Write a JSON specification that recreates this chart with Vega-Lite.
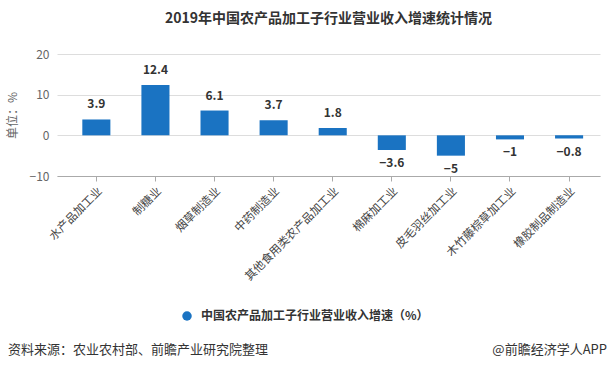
{
  "$schema": "https://vega.github.io/schema/vega-lite/v6.json",
  "background": "white",
  "padding": {"left": 6, "top": 12, "right": 2, "bottom": 2},
  "spacing": 21,
  "config": {"font": "Noto Sans CJK SC", "view": {"stroke": null}},
  "resolve": {"scale": {"color": "independent"}},
  "vconcat": [
    {
      "title": {"text": "2019年中国农产品加工子行业营业收入增速统计情况", "fontSize": 14, "fontWeight": "bold", "color": "#333333", "anchor": "middle", "offset": 22},
      "width": 543,
      "height": 122,
      "data": {"values": [
        {"industry": "水产品加工业", "growth": 3.9},
        {"industry": "制糖业", "growth": 12.4},
        {"industry": "烟草制造业", "growth": 6.1},
        {"industry": "中药制造业", "growth": 3.7},
        {"industry": "其他食用类农产品加工业", "growth": 1.8},
        {"industry": "棉麻加工业", "growth": -3.6},
        {"industry": "皮毛羽丝加工业", "growth": -5},
        {"industry": "木竹藤棕草加工业", "growth": -1},
        {"industry": "橡胶制品制造业", "growth": -0.8}
      ]},
      "encoding": {
        "x": {"field": "industry", "type": "nominal", "sort": null,
          "scale": {"paddingInner": 0.525, "paddingOuter": 0.357, "align": 0.6},
          "axis": {"title": null, "labelAngle": -45, "labelFontSize": 11.5, "labelColor": "#444444", "domainColor": "#aaaaaa", "tickColor": "#aaaaaa", "tickSize": 5, "labelPadding": 4}},
        "y": {"field": "growth", "type": "quantitative", "scale": {"domain": [-10, 20]},
          "axis": {"title": "单位：%", "values": [-10, 0, 10, 20], "domain": false, "ticks": false, "gridColor": "#dddddd", "labelColor": "#666666", "labelFontSize": 12, "labelPadding": 8, "titleFontWeight": "normal", "titleColor": "#666666", "titleFontSize": 12, "titlePadding": 10}}
      },
      "layer": [
        {
          "mark": {"type": "bar"},
          "encoding": {
            "color": {"datum": "中国农产品加工子行业营业收入增速（%）", "type": "nominal",
              "scale": {"range": ["#1a73c2"]},
              "legend": {"title": null, "orient": "none", "legendX": 124, "legendY": 256, "symbolType": "circle", "symbolSize": 90, "labelFontSize": 12, "labelFontWeight": "bold", "labelColor": "#333333", "labelLimit": 0, "labelOffset": 8}}
          }
        },
        {
          "transform": [{"filter": "datum.growth >= 0"}],
          "mark": {"type": "text", "fontWeight": "bold", "fontSize": 12, "color": "#333333", "baseline": "bottom", "dy": -8},
          "encoding": {"text": {"field": "growth", "type": "quantitative", "format": "~g"}}
        },
        {
          "transform": [{"filter": "datum.growth < 0"}],
          "mark": {"type": "text", "fontWeight": "bold", "fontSize": 12, "color": "#333333", "baseline": "top", "dy": 8},
          "encoding": {"text": {"field": "growth", "type": "quantitative", "format": "~g"}}
        }
      ]
    },
    {
      "width": 543,
      "height": 14,
      "data": {"values": [
        {"side": "left", "note": "资料来源：农业农村部、前瞻产业研究院整理"},
        {"side": "right", "note": "@前瞻经济学人APP"}
      ]},
      "encoding": {
        "x": {"field": "side", "type": "nominal", "scale": {"type": "point", "domain": ["left", "right"], "padding": 0, "range": [-49, 550]}, "axis": null},
        "text": {"field": "note"}
      },
      "layer": [
        {"transform": [{"filter": "datum.side === 'left'"}], "mark": {"type": "text", "align": "left", "fontSize": 13, "color": "#333333"}},
        {"transform": [{"filter": "datum.side === 'right'"}], "mark": {"type": "text", "align": "right", "fontSize": 13, "color": "#333333"}}
      ]
    }
  ]
}
